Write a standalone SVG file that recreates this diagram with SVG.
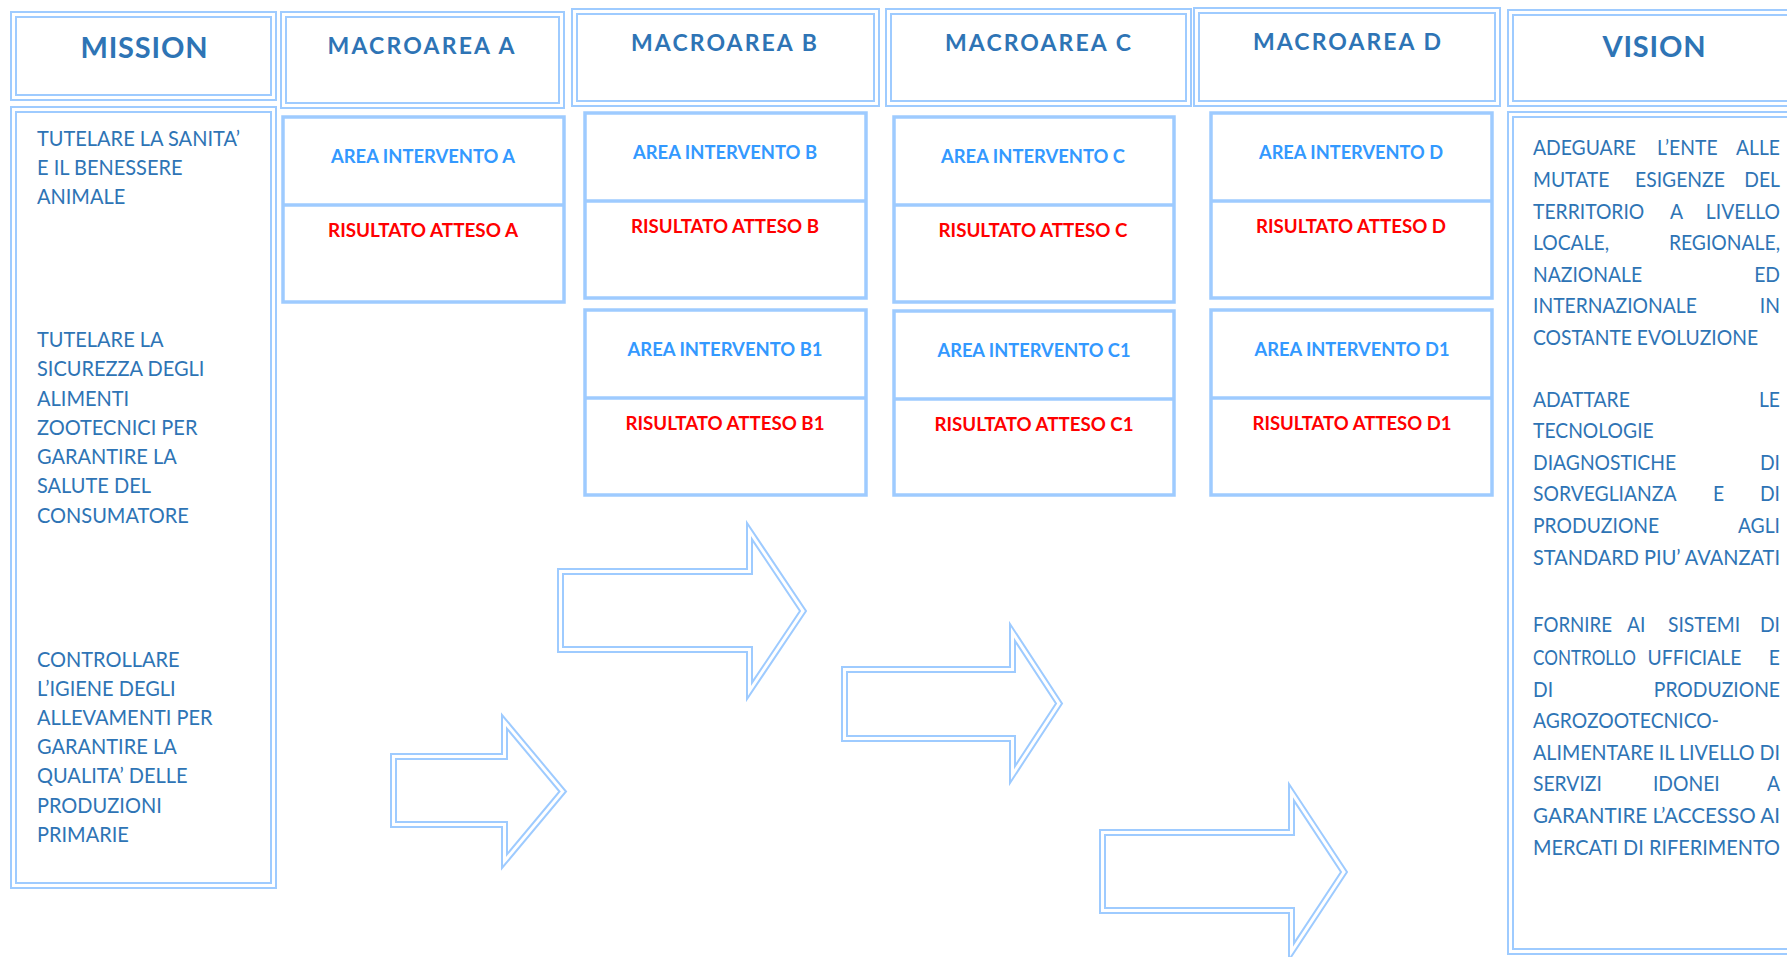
<svg xmlns="http://www.w3.org/2000/svg" width="1787" height="957" viewBox="0 0 1787 957">
<style>
.b{fill:none;stroke:#9ecbff;stroke-width:2}
.t{fill:none;stroke:#9ecbff;stroke-width:3.5}
.h{font-family:Lato,"Liberation Sans",sans-serif;font-weight:bold;fill:#2e74b5;text-anchor:middle}
.ai{font-family:Lato,"Liberation Sans",sans-serif;font-weight:bold;font-size:18.5px;fill:#3399ff;text-anchor:middle}
.ra{font-family:Lato,"Liberation Sans",sans-serif;font-weight:bold;font-size:18.5px;fill:#ff0000;text-anchor:middle}
.m{font-family:Lato,"Liberation Sans",sans-serif;font-size:21.5px;fill:#2e74b5}
.v{font-family:Lato,"Liberation Sans",sans-serif;font-size:21px;fill:#2e74b5}
.e{text-anchor:end}
</style>
<rect width="1787" height="957" fill="#fff"/>
<g id="mission-header">
<rect class="b" x="11" y="12" width="265" height="88"/><rect class="b" x="16" y="17" width="255" height="78"/>
<text class="h" x="144" y="58" font-size="29" textLength="127" lengthAdjust="spacing">MISSION</text>
</g>
<g id="macroarea-a-header">
<rect class="b" x="281" y="12" width="283" height="96"/><rect class="b" x="286" y="17" width="273" height="86"/>
<text class="h" x="421" y="54" font-size="23" textLength="187" lengthAdjust="spacing">MACROAREA A</text>
</g>
<g id="macroarea-b-header">
<rect class="b" x="572" y="9" width="307" height="97"/><rect class="b" x="577" y="14" width="297" height="87"/>
<text class="h" x="724" y="51" font-size="23" textLength="186" lengthAdjust="spacing">MACROAREA B</text>
</g>
<g id="macroarea-c-header">
<rect class="b" x="886" y="9" width="305" height="97"/><rect class="b" x="891" y="14" width="295" height="87"/>
<text class="h" x="1038" y="51" font-size="23" textLength="186" lengthAdjust="spacing">MACROAREA C</text>
</g>
<g id="macroarea-d-header">
<rect class="b" x="1194" y="8" width="306" height="98"/><rect class="b" x="1199" y="13" width="296" height="88"/>
<text class="h" x="1347" y="50" font-size="23" textLength="188" lengthAdjust="spacing">MACROAREA D</text>
</g>
<g id="vision-header">
<rect class="b" x="1508" y="10" width="300" height="96"/><rect class="b" x="1513" y="15" width="290" height="86"/>
<text class="h" x="1654" y="57" font-size="29" textLength="103" lengthAdjust="spacing">VISION</text>
</g>
<g id="mission-body">
<rect class="b" x="11" y="107" width="265" height="781"/><rect class="b" x="16" y="112" width="255" height="771"/>
<g transform="translate(37,0) scale(0.93,1) translate(-37,0)">
<text class="m" x="37" y="146">TUTELARE LA SANITA’</text>
<text class="m" x="37" y="175">E IL BENESSERE</text>
<text class="m" x="37" y="204">ANIMALE</text>
<text class="m" x="37" y="347">TUTELARE LA</text>
<text class="m" x="37" y="376">SICUREZZA DEGLI</text>
<text class="m" x="37" y="406">ALIMENTI</text>
<text class="m" x="37" y="435">ZOOTECNICI PER</text>
<text class="m" x="37" y="464">GARANTIRE LA</text>
<text class="m" x="37" y="493">SALUTE DEL</text>
<text class="m" x="37" y="523">CONSUMATORE</text>
<text class="m" x="37" y="667">CONTROLLARE</text>
<text class="m" x="37" y="696">L’IGIENE DEGLI</text>
<text class="m" x="37" y="725">ALLEVAMENTI PER</text>
<text class="m" x="37" y="754">GARANTIRE LA</text>
<text class="m" x="37" y="783">QUALITA’ DELLE</text>
<text class="m" x="37" y="813">PRODUZIONI</text>
<text class="m" x="37" y="842">PRIMARIE</text>
</g>
</g>
<g id="area-a">
<rect class="t" x="283" y="117" width="281" height="185"/><line class="t" x1="283" y1="205" x2="564" y2="205"/>
<text class="ai" x="423" y="163" textLength="184" lengthAdjust="spacingAndGlyphs">AREA INTERVENTO A</text>
<text class="ra" x="423" y="237" textLength="190" lengthAdjust="spacingAndGlyphs">RISULTATO ATTESO A</text>
</g>
<g id="area-b">
<rect class="t" x="585" y="113" width="281" height="185"/><line class="t" x1="585" y1="201" x2="866" y2="201"/>
<text class="ai" x="725" y="159" textLength="184" lengthAdjust="spacingAndGlyphs">AREA INTERVENTO B</text>
<text class="ra" x="725" y="233" textLength="188" lengthAdjust="spacingAndGlyphs">RISULTATO ATTESO B</text>
</g>
<g id="area-c">
<rect class="t" x="894" y="117" width="280" height="185"/><line class="t" x1="894" y1="205" x2="1174" y2="205"/>
<text class="ai" x="1033" y="163" textLength="184" lengthAdjust="spacingAndGlyphs">AREA INTERVENTO C</text>
<text class="ra" x="1033" y="237" textLength="189" lengthAdjust="spacingAndGlyphs">RISULTATO ATTESO C</text>
</g>
<g id="area-d">
<rect class="t" x="1211" y="113" width="281" height="185"/><line class="t" x1="1211" y1="201" x2="1492" y2="201"/>
<text class="ai" x="1351" y="159" textLength="184" lengthAdjust="spacingAndGlyphs">AREA INTERVENTO D</text>
<text class="ra" x="1351" y="233" textLength="190" lengthAdjust="spacingAndGlyphs">RISULTATO ATTESO D</text>
</g>
<g id="area-b1">
<rect class="t" x="585" y="310" width="281" height="185"/><line class="t" x1="585" y1="398" x2="866" y2="398"/>
<text class="ai" x="725" y="356" textLength="195" lengthAdjust="spacingAndGlyphs">AREA INTERVENTO B1</text>
<text class="ra" x="725" y="430" textLength="199" lengthAdjust="spacingAndGlyphs">RISULTATO ATTESO B1</text>
</g>
<g id="area-c1">
<rect class="t" x="894" y="311" width="280" height="184"/><line class="t" x1="894" y1="399" x2="1174" y2="399"/>
<text class="ai" x="1034" y="357" textLength="193" lengthAdjust="spacingAndGlyphs">AREA INTERVENTO C1</text>
<text class="ra" x="1034" y="431" textLength="199" lengthAdjust="spacingAndGlyphs">RISULTATO ATTESO C1</text>
</g>
<g id="area-d1">
<rect class="t" x="1211" y="310" width="281" height="185"/><line class="t" x1="1211" y1="398" x2="1492" y2="398"/>
<text class="ai" x="1352" y="356" textLength="195" lengthAdjust="spacingAndGlyphs">AREA INTERVENTO D1</text>
<text class="ra" x="1352" y="430" textLength="199" lengthAdjust="spacingAndGlyphs">RISULTATO ATTESO D1</text>
</g>
<g id="vision-body">
<rect class="b" x="1508" y="112" width="300" height="842"/><rect class="b" x="1513" y="117" width="290" height="832"/>
<g transform="translate(1533,0) scale(0.92,1) translate(-1533,0)">
<text class="v" y="155"><tspan x="1533">ADEGUARE</tspan><tspan x="1667.8">L’ENTE</tspan><tspan x="1801.5" class="e">ALLE</tspan></text>
<text class="v" y="187"><tspan x="1533">MUTATE</tspan><tspan x="1643.9">ESIGENZE</tspan><tspan x="1801.5" class="e">DEL</tspan></text>
<text class="v" y="219"><tspan x="1533">TERRITORIO</tspan><tspan x="1681.9">A</tspan><tspan x="1801.5" class="e">LIVELLO</tspan></text>
<text class="v" y="250"><tspan x="1533">LOCALE,</tspan><tspan x="1801.5" class="e">REGIONALE,</tspan></text>
<text class="v" y="282"><tspan x="1533">NAZIONALE</tspan><tspan x="1801.5" class="e">ED</tspan></text>
<text class="v" y="313"><tspan x="1533">INTERNAZIONALE</tspan><tspan x="1801.5" class="e">IN</tspan></text>
<text class="v" x="1533" y="345">COSTANTE EVOLUZIONE</text>
<text class="v" y="407"><tspan x="1533">ADATTARE</tspan><tspan x="1801.5" class="e">LE</tspan></text>
<text class="v" x="1533" y="438">TECNOLOGIE</text>
<text class="v" y="470"><tspan x="1533">DIAGNOSTICHE</tspan><tspan x="1801.5" class="e">DI</tspan></text>
<text class="v" y="501"><tspan x="1533">SORVEGLIANZA</tspan><tspan x="1728.7">E</tspan><tspan x="1801.5" class="e">DI</tspan></text>
<text class="v" y="533"><tspan x="1533">PRODUZIONE</tspan><tspan x="1801.5" class="e">AGLI</tspan></text>
<text class="v" x="1533" y="565" textLength="268.5" lengthAdjust="spacingAndGlyphs">STANDARD PIU’ AVANZATI</text>
<text class="v" x="1533" y="632" textLength="86" lengthAdjust="spacingAndGlyphs">FORNIRE</text>
<text class="v" y="632"><tspan x="1635.2">AI</tspan><tspan x="1679.7">SISTEMI</tspan><tspan x="1801.5" class="e">DI</tspan></text>
<text class="v" x="1533" y="665" textLength="112" lengthAdjust="spacingAndGlyphs">CONTROLLO</text>
<text class="v" y="665"><tspan x="1657.5">UFFICIALE</tspan><tspan x="1801.5" class="e">E</tspan></text>
<text class="v" y="697"><tspan x="1533">DI</tspan><tspan x="1801.5" class="e">PRODUZIONE</tspan></text>
<text class="v" x="1533" y="728">AGROZOOTECNICO-</text>
<text class="v" x="1533" y="760" textLength="268.5" lengthAdjust="spacingAndGlyphs">ALIMENTARE IL LIVELLO DI</text>
<text class="v" y="791"><tspan x="1533">SERVIZI</tspan><tspan x="1663.4">IDONEI</tspan><tspan x="1801.5" class="e">A</tspan></text>
<text class="v" x="1533" y="823" textLength="268.5" lengthAdjust="spacingAndGlyphs">GARANTIRE L’ACCESSO AI</text>
<text class="v" x="1533" y="855" textLength="268.5" lengthAdjust="spacingAndGlyphs">MERCATI DI RIFERIMENTO</text>
</g>
</g>
<g id="connectors">
<g id="arrow-1">
<polygon class="b" points="391,754 502,754 502,715 566,791.5 502,868 502,827 391,827"/>
<polygon class="b" points="396,759 507,759 507,728.7 559.5,791.5 507,854.3 507,822 396,822"/>
</g>
<g id="arrow-2">
<polygon class="b" points="558,569 747,569 747,523 806,611 747,699 747,652 558,652"/>
<polygon class="b" points="563,574 752,574 752,539.4 800,611 752,682.6 752,647 563,647"/>
</g>
<g id="arrow-3">
<polygon class="b" points="842,667 1010,667 1010,624 1062,703.5 1010,783 1010,741 842,741"/>
<polygon class="b" points="847,672 1015,672 1015,640.9 1056,703.5 1015,766.1 1015,736 847,736"/>
</g>
<g id="arrow-4">
<polygon class="b" points="1100,830 1289,830 1289,784 1347,872 1289,960 1289,913 1100,913"/>
<polygon class="b" points="1105,835 1294,835 1294,800.7 1341,872 1294,943.3 1294,908 1105,908"/>
</g>
</g>
</svg>
